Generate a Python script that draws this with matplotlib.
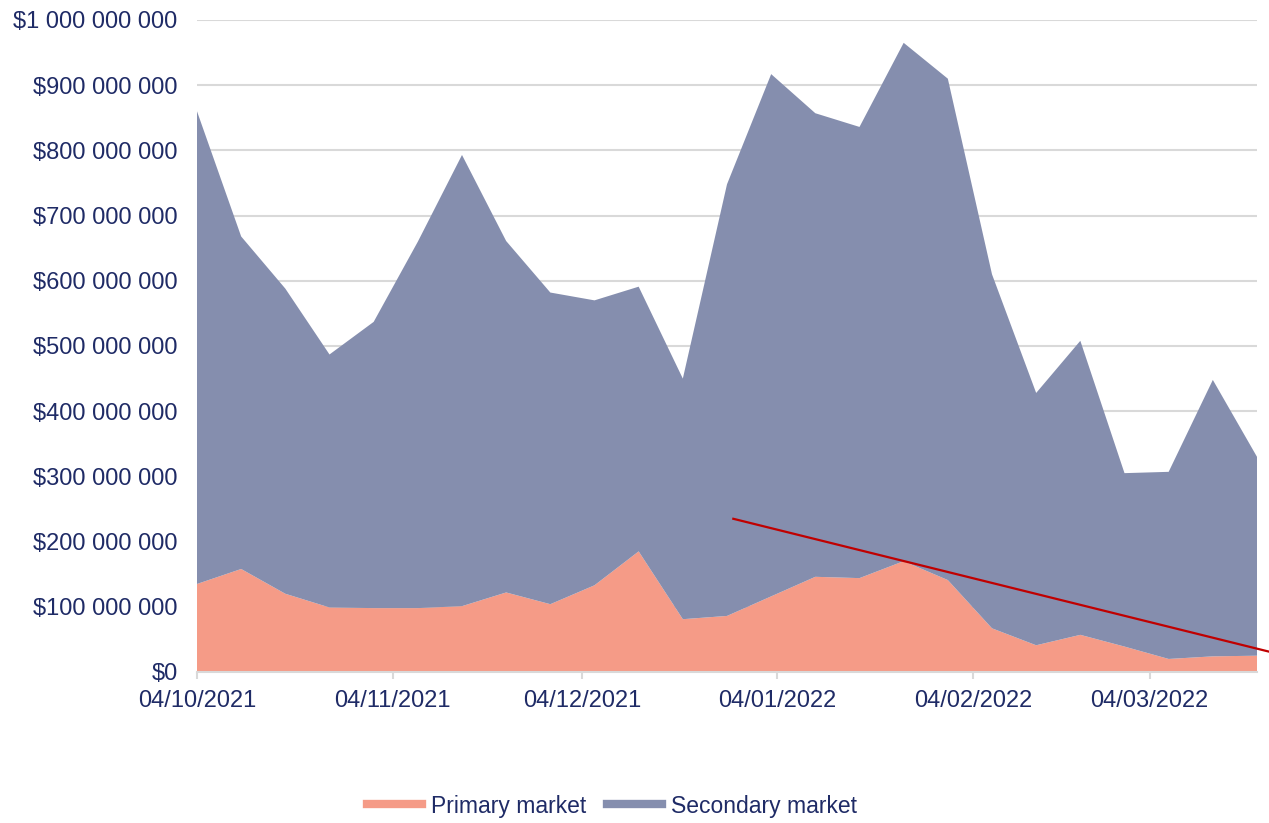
import matplotlib
matplotlib.use('Agg')
import matplotlib.pyplot as plt
import matplotlib.dates as mdates
from matplotlib.lines import Line2D
import numpy as np
import pandas as pd

# weekly values, in millions of dollars
weeks = pd.date_range('2021-10-04', '2022-03-21', freq='7D')
primary = [135, 158, 120, 99, 98, 98, 101, 122, 104, 133, 185, 81, 86,
           116, 146, 144, 170, 141, 67, 41, 57, 39, 20, 24, 25]
total = [860, 668, 588, 487, 537, 660, 793, 661, 582, 570, 591, 450, 748,
         917, 857, 836, 965, 910, 610, 428, 508, 305, 307, 448, 330]
secondary = [t - p for t, p in zip(total, primary)]

trend_dates = pd.to_datetime(['2021-12-28', '2022-03-23'])
trend_values = [235, 31]

labels = ['Primary market', 'Secondary market']
col_primary = '#f59b87'
col_secondary = '#858eae'
navy = '#1f2b66'

plt.rcParams['font.family'] = ['Liberation Sans', 'DejaVu Sans']

fig = plt.figure(figsize=(12.69, 8.23), dpi=100)
ax = fig.add_axes([197/1269, 1-672/823, (1257-197)/1269, (672-20)/823])

x = mdates.date2num(weeks)
p = np.array(primary) * 1e6
s = np.array(secondary) * 1e6
ax.stackplot(x, p, s, colors=[col_primary, col_secondary], linewidth=0, zorder=2)
ax.plot(mdates.date2num(trend_dates), np.array(trend_values) * 1e6,
        color='#c00000', linewidth=1.6, clip_on=False, zorder=3)

ax.set_xlim(x[0], x[-1])
ax.set_ylim(0, 1e9)
ax.set_yticks(np.arange(0, 1.01e9, 1e8))
ax.yaxis.set_major_formatter(plt.FuncFormatter(lambda v, pos: '$' + f'{int(round(v)):,}'.replace(',', ' ')))
ax.grid(axis='y', color='#d9d9d9', linewidth=1.5, zorder=0)
ax.set_axisbelow(True)

ticks = pd.to_datetime(['2021-10-04', '2021-11-04', '2021-12-04', '2022-01-04', '2022-02-04', '2022-03-04'])
ax.set_xticks(mdates.date2num(ticks))
ax.xaxis.set_major_formatter(mdates.DateFormatter('%d/%m/%Y'))

for sp in ['left', 'right', 'top']:
    ax.spines[sp].set_visible(False)
ax.spines['bottom'].set_color('#d9d9d9')
ax.spines['bottom'].set_linewidth(1.5)
ax.tick_params(axis='y', length=0, pad=14, labelsize=17, labelcolor=navy)
ax.tick_params(axis='x', length=5, width=1.5, color='#d9d9d9', pad=8, labelsize=17, labelcolor=navy)

handles = [Line2D([0], [0], color=col_primary, linewidth=6),
           Line2D([0], [0], color=col_secondary, linewidth=6)]
leg = fig.legend(handles, labels, loc='center', bbox_to_anchor=(612/1269, 1-806/823), ncol=2,
                 frameon=False, fontsize=16.5, handlelength=2.4, handletextpad=0.4, columnspacing=0.9)
for t in leg.get_texts():
    t.set_color(navy)

plt.savefig('out.png', dpi=100)
